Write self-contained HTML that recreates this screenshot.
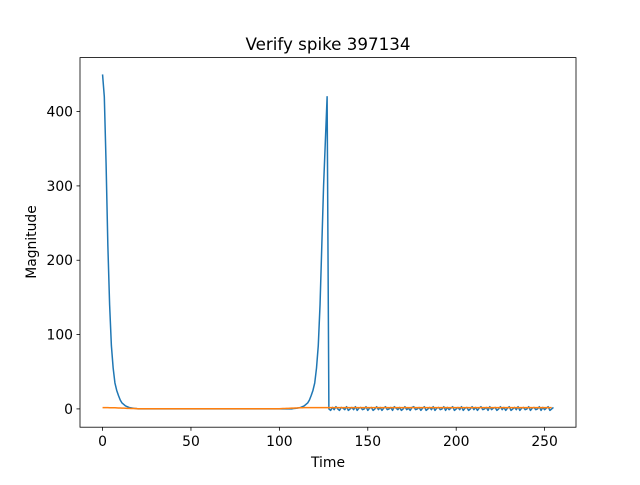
<!DOCTYPE html>
<html><head><meta charset="utf-8"><style>
body{margin:0;background:#fff;}
svg text{font-family:"DejaVu Sans","Liberation Sans",sans-serif;fill:#000;}
</style></head><body>
<svg id="c" width="640" height="480" xmlns="http://www.w3.org/2000/svg">
<rect width="640" height="480" fill="#fff"/>
<text x="328" y="50" font-size="16.7" text-anchor="middle">Verify spike 397134</text>
<text x="328" y="467" font-size="13.9" text-anchor="middle">Time</text>
<text x="36" y="242" font-size="13.9" text-anchor="middle" transform="rotate(-90 36 242)">Magnitude</text>
<g id="ticks"></g>
<g id="series"></g>
<rect x="80" y="57.6" width="496" height="369.6" fill="none" stroke="#000" stroke-width="0.8"/>
</svg>
<script>
const xTicks=[0,50,100,150,200,250];
const yTicks=[0,100,200,300,400];
const blue=[450,420,330,220,140,85,55,35,25,18,12,8,6,4,3,2,1.5,1,0.7,0.5,
0,0,0,0,0,0,0,0,0,0,0,0,0,0,0,0,0,0,0,0,0,0,0,0,0,0,0,0,0,0,0,0,0,0,0,0,0,0,0,0,0,0,0,0,0,0,0,0,0,0,0,0,0,0,0,0,0,0,0,0,0,0,0,0,0,0,0,0,
0,0,0,0,0,0,0,0,0,0,0,0,0,0,0,0,0,0,0,0,
0.5,0.7,1,1.5,2,3,4,6,8,12,18,25,35,55,85,140,220,300,360,420,
0,-2,2,-1,3,0,-2,2,1,-1,3,-2,0,2,-1,3,
-2,1,2,-1,0,3,-2,1,2,-2,0,3,-1,2,-2,1,
3,-1,0,2,-2,3,1,-1,2,-2,0,3,-1,1,-2,2,
3,-1,0,2,-2,1,3,-2,0,2,-1,3,-2,1,2,-1,
0,3,-2,2,-1,1,3,-2,0,2,-1,3,-2,1,2,-2,
0,3,-1,2,-2,1,3,-1,0,2,-2,3,-1,1,2,-2,
0,3,-1,2,-2,1,3,-2,0,2,-1,3,-2,1,2,-1,
0,3,-2,1,2,-1,0,3,-2,2,-1,1,3,-2,0,2];
const orange=[1.8,1.8,1.7,1.7,1.6,1.6,1.5,1.5,1.4,1.3,1.2,1.1,1,0.9,0.8,0.7,0.6,0.5,0.5,0.4,
0.3,0.3,0.3,0.3,0.3,0.3,0.3,0.3,0.3,0.3,0.3,0.3,0.3,0.3,0.3,0.3,0.3,0.3,0.3,0.3,0.3,0.3,0.3,0.3,0.3,0.3,0.3,0.3,0.3,0.3,0.3,0.3,0.3,0.3,0.3,0.3,0.3,0.3,0.3,0.3,0.3,0.3,0.3,0.3,0.3,0.3,0.3,0.3,0.3,0.3,0.3,0.3,0.3,0.3,0.3,0.3,0.3,0.3,0.3,0.3,0.3,
0.3,0.3,0.3,0.3,0.3,0.3,0.3,0.3,0.3,0.3,0.3,0.3,0.3,0.3,0.3,0.3,0.3,0.3,0.3,0.3,
0.4,0.5,0.6,0.7,0.8,0.9,1,1.1,1.2,1.3,1.4,1.5,1.6,1.7,1.8,1.8,1.8,1.8,1.8,1.8,1.8,1.8,1.8,1.8,1.8,1.8,1.8,
1.8,1.8,1.8,1.8,1.8,1.8,1.8,1.8,1.8,1.8,1.8,1.8,1.8,1.8,1.8,1.8,1.8,1.8,1.8,1.8,1.8,1.8,1.8,1.8,1.8,1.8,1.8,1.8,1.8,1.8,1.8,1.8,
1.8,1.8,1.8,1.8,1.8,1.8,1.8,1.8,1.8,1.8,1.8,1.8,1.8,1.8,1.8,1.8,1.8,1.8,1.8,1.8,1.8,1.8,1.8,1.8,1.8,1.8,1.8,1.8,1.8,1.8,1.8,1.8,
1.8,1.8,1.8,1.8,1.8,1.8,1.8,1.8,1.8,1.8,1.8,1.8,1.8,1.8,1.8,1.8,1.8,1.8,1.8,1.8,1.8,1.8,1.8,1.8,1.8,1.8,1.8,1.8,1.8,1.8,1.8,1.8,
1.8,1.8,1.8,1.8,1.8,1.8,1.8,1.8,1.8,1.8,1.8,1.8,1.8,1.8,1.8,1.8,1.8,1.8,1.8,1.8,1.8,1.8,1.8,1.8,1.8,1.8,1.8,1.8,1.8,1.8,1.8];
const NS="http://www.w3.org/2000/svg";
const X0=80,X1=576,Y0=57.6,Y1=427.2;
const allY=blue.concat(orange);
const n=255;
const xmin=-0.05*n,xmax=n*1.05;
const ymn=Math.min(...allY),ymx=Math.max(...allY),yr=ymx-ymn;
const ymin=ymn-0.05*yr,ymax=ymx+0.05*yr;
const sx=v=>X0+(v-xmin)/(xmax-xmin)*(X1-X0);
const sy=v=>Y1-(v-ymin)/(ymax-ymin)*(Y1-Y0);
const tg=document.getElementById('ticks');
function mk(tag,attrs,parent){const e=document.createElementNS(NS,tag);for(const k in attrs)e.setAttribute(k,attrs[k]);parent.appendChild(e);return e;}
xTicks.forEach(t=>{const x=sx(t);
const l=mk('line',{x1:x,x2:x,y1:Y1,y2:Y1+3.5,stroke:'#000','stroke-width':0.8},tg);


const tx=mk('text',{x:x,y:Y1+19,'font-size':13.9,'text-anchor':'middle'},tg);tx.textContent=t;

});
yTicks.forEach(t=>{const y=sy(t);
const l=mk('line',{x1:X0-3.5,x2:X0,y1:y,y2:y,stroke:'#000','stroke-width':0.8},tg);


const tx=mk('text',{x:X0-7,y:y+5,'font-size':13.9,'text-anchor':'end'},tg);tx.textContent=t;

});
const sg=document.getElementById('series');
function line(arr,col,name){const d=arr.map((v,i)=>(i?'L':'M')+sx(i).toFixed(2)+','+sy(v).toFixed(2)).join('');
const p=mk('path',{d:d,fill:'none',stroke:col,'stroke-width':1.5,'stroke-linejoin':'round'},sg);

}
line(blue,'#1f77b4','series-blue');
line(orange,'#ff7f0e','series-orange');
</script>
</body></html>
